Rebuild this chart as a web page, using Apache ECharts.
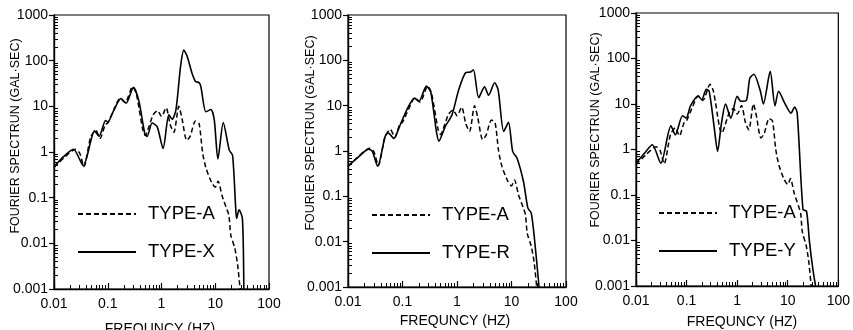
<!DOCTYPE html>
<html><head><meta charset="utf-8">
<script src="https://cdn.jsdelivr.net/npm/echarts@6/dist/echarts.min.js"></script>
<style>html,body{margin:0;background:#fff}#c{width:853px;height:330px}</style>
</head><body><div id="c"></div>
<script>
// ---- data (frequency in Hz, spectrum in gal·sec) ----
const freqA = [0.01,0.016,0.025,0.03,0.036,0.048,0.06,0.072,0.09,0.1,0.13,0.17,0.21,0.29,0.34,0.45,0.5,0.58,0.7,0.85,1.0,1.22,1.45,1.7,2.1,2.4,2.95,3.4,4.3,5.0,5.8,6.7,8.5,10,11.3,13.4,16.5,18,19.5,23,26,29];
const ampA  = [0.46,0.78,1.15,0.95,0.48,2.1,3.0,2.0,4.0,4.3,8.5,15,12,27,19,3,2.3,3.5,6.5,8,6,9.3,4,2.7,10,5.5,1.8,2.2,4.8,4.2,1.0,0.45,0.22,0.17,0.23,0.11,0.055,0.04,0.015,0.008,0.0035,0.001];

const freqX = [0.01,0.015,0.023,0.035,0.057,0.069,0.091,0.10,0.13,0.177,0.22,0.30,0.38,0.49,0.54,0.67,0.83,1.07,1.37,1.58,1.86,2.26,2.6,3.0,3.7,4.3,5.0,5.4,6.7,8.3,9.6,11.2,14.1,18.2,21,24,25,27.7,32,34];
const ampX  = [0.47,0.79,1.15,0.5,2.9,2.2,4.9,4.5,8.3,14.8,11.7,26,13,2.5,2.2,4.3,3.6,1.2,6.5,5.2,8.5,74,170,125,53,35,33,27,7.6,8.5,5,0.7,4.4,1.1,0.85,0.06,0.035,0.054,0.035,0.001];

const freqR = [0.01,0.016,0.024,0.028,0.035,0.048,0.055,0.069,0.091,0.12,0.166,0.2,0.275,0.33,0.47,0.61,0.81,1.07,1.46,1.75,2.0,2.5,3.2,3.8,4.9,5.7,7.2,8.8,10.5,12.6,16.6,20,23,26.5,32];
const ampR  = [0.46,0.76,1.1,0.98,0.46,2.1,2.5,1.9,3.8,8.1,14.7,12.4,27,20,1.65,3.5,6.3,22,54,55,62,15,26,17,32,22,2.7,4.3,0.98,0.7,0.21,0.055,0.043,0.011,0.001];

const freqY = [0.01,0.015,0.021,0.031,0.049,0.06,0.083,0.098,0.12,0.17,0.2,0.245,0.28,0.35,0.41,0.49,0.59,0.75,1.0,1.18,1.52,1.78,2.14,2.85,3.3,4.5,5.6,6.6,8.7,11.6,13.7,15.4,20,23.5,27,31.5,35.5];
const ampY  = [0.5,0.85,1.27,0.5,3.3,2.1,5.5,4.9,9.2,14.9,12.4,21,19,3.2,0.91,3.8,10,4.9,14.8,11.5,12,37,45,20,10,52,9.1,19,10.5,6.3,8.6,6.3,0.048,0.044,0.009,0.0023,0.001];

const xMajor = [0.01,0.1,1,10,100];
const yMajor = [0.001,0.01,0.1,1,10,100,1000];
const panelTypes = ['TYPE-X','TYPE-R','TYPE-Y'];
const yTitle = 'FOURIER SPECTRUN (GAL·SEC)';
const xTitle = 'FREQUNCY (HZ)';

// ---- helpers ----
const zip = (f, a) => f.map((v, i) => [v, a[i]]);
function minorOf(majors){
  const out = [];
  for (let i = 0; i < majors.length - 1; i++)
    for (let k = 2; k <= 9; k++) out.push(+(majors[i] * k).toPrecision(3));
  return out;
}
const xMinor = minorOf(xMajor), yMinor = minorOf(yMajor);
const fmt = v => String(+(+v).toPrecision(3));
const FONT = '"Liberation Sans", Arial, sans-serif';

const grids = [
  {left:54, top:15, width:215, height:274},
  {left:348, top:15, width:218, height:272},
  {left:636, top:13, width:214, height:273}
];
const legends = [{left:72, top:199},{left:366, top:200},{left:653, top:198}];
const yTitlePos = [[16,136],[311,133],[596,130]];
const xTitlePos = [[160,329],[455,321],[742,322]];
const solidData = [zip(freqX, ampX), zip(freqR, ampR), zip(freqY, ampY)];

const option = {
  backgroundColor:'#fff',
  animation:false,
  grid: grids.map(g => Object.assign({show:true, borderColor:'#000', borderWidth:1.2, backgroundColor:'transparent'}, g)),
  xAxis: [], yAxis: [], series: [], legend: [], graphic: []
};

grids.forEach((g, i) => {
  // main axes
  option.xAxis.push({type:'log', logBase:10, gridIndex:i, min:0.01, max:100, position:'bottom',
    axisLine:{show:true, lineStyle:{color:'#000', width:1.4}},
    axisTick:{show:true, inside:true, length:6, customValues:xMajor, lineStyle:{color:'#000', width:1.2}},
    axisLabel:{customValues:xMajor, formatter:fmt, color:'#000', fontSize:14, fontFamily:FONT, margin:8},
    splitLine:{show:false}});
  option.yAxis.push({type:'log', logBase:10, gridIndex:i, min:0.001, max:1000, position:'left',
    axisLine:{show:true, lineStyle:{color:'#000', width:1.4}},
    axisTick:{show:true, inside:false, length:5, customValues:yMajor, lineStyle:{color:'#000', width:1.2}},
    axisLabel:{customValues:yMajor, formatter:fmt, color:'#000', fontSize:14, fontFamily:FONT, margin:6},
    splitLine:{show:false}});
  // minor-tick axes, on the same sides as the main axes
  option.xAxis.push({type:'log', logBase:10, gridIndex:i, min:0.01, max:100, position:'bottom', offset:0,
    axisLine:{show:false}, axisLabel:{show:false}, splitLine:{show:false},
    axisTick:{show:true, inside:true, length:4, customValues:xMinor, lineStyle:{color:'#000', width:1}}});
  option.yAxis.push({type:'log', logBase:10, gridIndex:i, min:0.001, max:1000, position:'left', offset:0,
    axisLine:{show:false}, axisLabel:{show:false}, splitLine:{show:false},
    axisTick:{show:true, inside:true, length:4, customValues:yMinor, lineStyle:{color:'#000', width:1}}});

  option.series.push({name:'TYPE-A', type:'line', xAxisIndex:2*i, yAxisIndex:2*i,
    data: zip(freqA, ampA), smooth:0.25, symbol:'none',
    lineStyle:{color:'#000', width:1.5, type:[5,3]}, itemStyle:{color:'#000'}, z:2});
  option.series.push({name:panelTypes[i], type:'line', xAxisIndex:2*i, yAxisIndex:2*i,
    data: solidData[i], smooth:0.25, symbol:'none',
    lineStyle:{color:'#000', width:1.6, type:'solid'}, itemStyle:{color:'#000'}, z:3});

  option.legend.push({data:['TYPE-A', panelTypes[i]], orient:'vertical',
    left:legends[i].left, top:legends[i].top, itemWidth:58, itemHeight:20, itemGap:18,
    selectedMode:false,
    itemStyle:{opacity:0},
    textStyle:{fontSize:18.5, lineHeight:20, color:'#000', fontFamily:FONT, padding:[0,0,0,7]}});

  option.graphic.push({type:'text', x:yTitlePos[i][0], y:yTitlePos[i][1], rotation:Math.PI/2,
    style:{text:yTitle, fill:'#000', font:'12.5px '+FONT, textAlign:'center', textVerticalAlign:'middle'}});
  option.graphic.push({type:'text', x:xTitlePos[i][0], y:xTitlePos[i][1],
    style:{text:xTitle, fill:'#000', font:'14px '+FONT, textAlign:'center', textVerticalAlign:'middle'}});
});

const chart = echarts.init(document.getElementById('c'), null, {renderer:'canvas'});
chart.setOption(option);
</script>
</body></html>
